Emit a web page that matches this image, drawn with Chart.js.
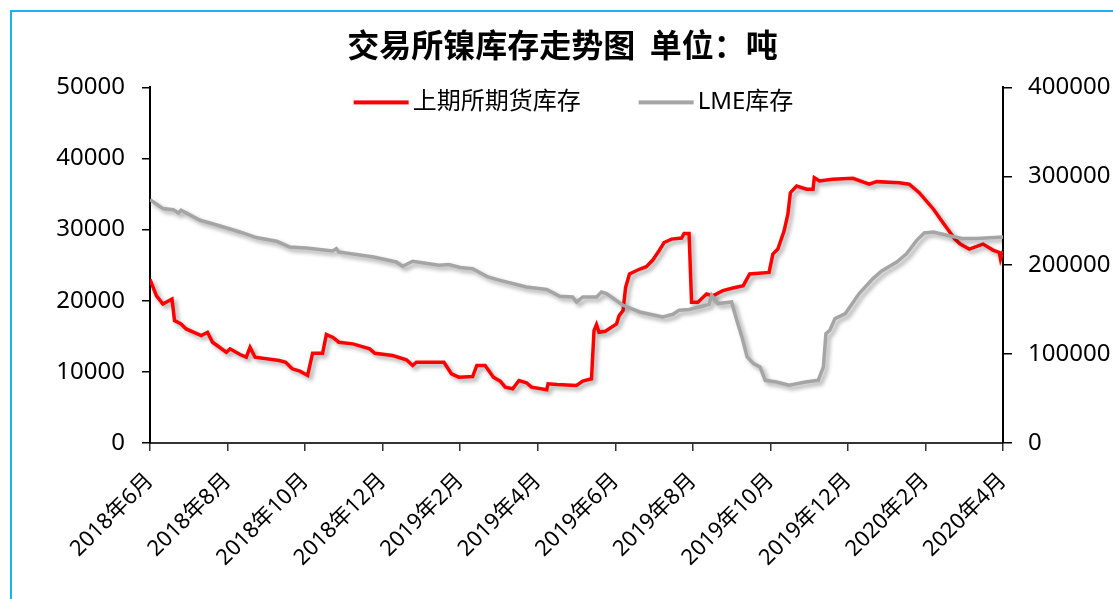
<!DOCTYPE html>
<html lang="zh">
<head>
  <meta charset="UTF-8" />
  <title>交易所镍库存走势图</title>
  <script src="https://cdn.jsdelivr.net/npm/chart.js"></script>
  <style>
    * {
      margin: 0;
      padding: 0;
      box-sizing: border-box;
    }
    body {
      background: #fff;
      width: 1113px;
      height: 599px;
      overflow: hidden;
      position: relative;
    }
    .frame {
      position: absolute;
      left: 10px;
      top: 10px;
      width: 1200px;
      height: 700px;
      border-left: 2px solid #1ab3ee;
      border-top: 2px solid #1ab3ee;
    }
    .wrap {
      position: absolute;
      left: 0;
      top: 0;
      width: 1113px;
      height: 599px;
    }
  </style>
</head>
<body>
  <div class="frame"></div>
  <div class="wrap"><canvas id="stockChart"></canvas></div>

  <script>
    // tick labels on the x axis, one every two months
    const xLabels = ['2018年6月', '2018年8月', '2018年10月', '2018年12月', '2019年2月', '2019年4月',
      '2019年6月', '2019年8月', '2019年10月', '2019年12月', '2020年2月', '2020年4月'];

    // 上期所期货库存 (left axis, tons)
    const shfeDates = ['2018-06-01','2018-06-06','2018-06-11','2018-06-18','2018-06-20','2018-06-25','2018-06-29',
      '2018-07-11','2018-07-16','2018-07-20','2018-07-31','2018-08-03','2018-08-11','2018-08-16','2018-08-19','2018-08-23',
      '2018-09-11','2018-09-16','2018-09-21','2018-09-27','2018-10-03','2018-10-07','2018-10-15','2018-10-18','2018-10-23','2018-10-28',
      '2018-11-08','2018-11-21','2018-11-25','2018-12-09','2018-12-20','2018-12-25','2018-12-28',
      '2019-01-19','2019-01-25','2019-01-31','2019-02-10','2019-02-13','2019-02-19','2019-02-25',
      '2019-03-02','2019-03-06','2019-03-12','2019-03-17','2019-03-23','2019-03-27','2019-04-08','2019-04-09','2019-04-16',
      '2019-05-01','2019-05-06','2019-05-13','2019-05-15','2019-05-17','2019-05-19','2019-05-24',
      '2019-06-02','2019-06-04','2019-06-07','2019-06-09','2019-06-12','2019-06-20','2019-06-25','2019-06-30',
      '2019-07-05','2019-07-09','2019-07-15','2019-07-23','2019-07-25','2019-07-29','2019-07-31',
      '2019-08-05','2019-08-12','2019-08-17','2019-08-25','2019-09-02','2019-09-10','2019-09-15','2019-09-30',
      '2019-10-03','2019-10-07','2019-10-12','2019-10-15','2019-10-17','2019-10-22','2019-10-30',
      '2019-11-04','2019-11-05','2019-11-09','2019-11-19','2019-12-05','2019-12-18','2019-12-24',
      '2020-01-11','2020-01-19','2020-01-27','2020-02-07','2020-02-14','2020-02-23','2020-02-27',
      '2020-03-05','2020-03-16','2020-03-24','2020-03-29','2020-03-30','2020-04-01'];
    const shfeValues = [23000,20700,19550,20250,17200,16750,16040,
      15100,15570,14170,12760,13240,12440,12060,13460,12060,
      11600,11360,10430,10100,9500,12620,12620,15250,14870,14170,
      13940,13240,12620,12300,11700,10900,11360,
      11360,9730,9260,9350,10900,10900,9260,
      8700,7850,7630,8790,8470,7850,7490,8330,8230,
      8090,8700,9030,15800,16650,15570,15710,
      16750,17910,18610,21880,23760,24460,24780,25720,
      27030,28190,28670,28810,29450,29450,19780,
      19780,20950,20700,21420,21800,22120,23760,23990,
      26560,27270,29830,32170,35200,36140,35680,
      35680,37310,36840,37080,37220,36380,36750,
      36600,36380,35200,32870,31000,28670,27970,
      27270,27970,27130,26790,25860,27000];

    // LME库存 (right axis, tons)
    const lmeDates = ['2018-06-01','2018-06-11','2018-06-19','2018-06-23','2018-06-25','2018-07-10','2018-07-18',
      '2018-08-11','2018-08-24','2018-09-09','2018-09-19','2018-10-02','2018-10-23','2018-10-26','2018-10-28',
      '2018-11-24','2018-12-12','2018-12-17','2018-12-25','2019-01-15','2019-01-23','2019-02-01','2019-02-10','2019-02-21',
      '2019-03-02','2019-03-23','2019-04-08','2019-04-18','2019-04-28','2019-05-01','2019-05-06','2019-05-17','2019-05-21','2019-05-25',
      '2019-06-07','2019-06-20','2019-07-08','2019-07-16','2019-07-21','2019-07-29',
      '2019-08-06','2019-08-14','2019-08-16','2019-08-21','2019-09-01','2019-09-05','2019-09-09','2019-09-13','2019-09-18','2019-09-23','2019-09-27',
      '2019-10-06','2019-10-16','2019-10-29','2019-11-08','2019-11-12','2019-11-14','2019-11-17','2019-11-21','2019-11-29',
      '2019-12-10','2019-12-21','2019-12-28','2020-01-09','2020-01-17','2020-01-25','2020-01-31',
      '2020-02-07','2020-02-17','2020-02-29','2020-03-11','2020-04-01'];
    const lmeValues = [273800,263700,262500,258800,261800,250500,247500,
      237400,231100,226900,220500,219400,216000,218700,214900,
      209300,203600,198800,204400,199900,200700,197500,196000,186800,
      183000,175500,172600,165000,164300,158600,164300,164300,169900,168100,
      154900,147400,141800,144800,149300,150100,
      153000,156000,166200,156800,158600,138000,119300,96800,89300,85500,70500,
      68600,64900,68600,70500,85500,123000,126800,139900,145600,
      168100,184900,193500,203600,213100,228000,236300,
      237400,233700,229900,229900,231800];

    // months since 2018-06, each month the same width like the original axis
    function monthPos(s) {
      const [y, m, d] = s.split('-').map(Number);
      const dim = new Date(y, m, 0).getDate();
      return (y - 2018) * 12 + (m - 6) + (d - 1) / dim;
    }
    const toPoints = (dates, vals) => dates.map((d, i) => ({ x: monthPos(d), y: vals[i] }));

    const FONT = "'Noto Sans', 'Noto Sans CJK SC', sans-serif";

    // soft drop shadow under the lines
    const lineShadow = {
      id: 'lineShadow',
      beforeDatasetDraw(chart) {
        const c = chart.ctx;
        c.save();
        c.shadowColor = 'rgba(0,0,0,0.35)';
        c.shadowBlur = 4;
        c.shadowOffsetX = 3;
        c.shadowOffsetY = 3;
      },
      afterDatasetDraw(chart) {
        chart.ctx.restore();
      }
    };

    // one-row legend sitting inside the top of the plot, like the excel one
    const innerLegend = {
      id: 'innerLegend',
      afterDraw(chart) {
        const c = chart.ctx;
        const area = chart.chartArea;
        const sw = 55, gapText = 4, gapItem = 58;
        c.save();
        c.font = '24px ' + FONT;
        c.textBaseline = 'middle';
        const items = chart.data.datasets.map(ds => ({ text: ds.label, color: ds.borderColor, w: c.measureText(ds.label).width }));
        const total = items.reduce((s, it) => s + sw + gapText + it.w, 0) + gapItem * (items.length - 1);
        let x = (area.left + area.right) / 2 - 3 - total / 2;
        const y = area.top + 15;
        items.forEach(it => {
          c.fillStyle = it.color;
          c.fillRect(x, y - 2, sw, 4);
          x += sw + gapText;
          c.fillStyle = '#000';
          c.fillText(it.text, x, y);
          x += it.w + gapItem;
        });
        c.restore();
      }
    };

    const ctx = document.getElementById('stockChart').getContext('2d');
    const chart = new Chart(ctx, {
      type: 'line',
      data: {
        datasets: [
          {
            label: '上期所期货库存',
            data: toPoints(shfeDates, shfeValues),
            borderColor: '#ff0000',
            backgroundColor: '#ff0000',
            borderWidth: 3.5,
            pointRadius: 0,
            tension: 0,
            yAxisID: 'y',
            order: 1
          },
          {
            label: 'LME库存',
            data: toPoints(lmeDates, lmeValues),
            borderColor: '#a5a5a5',
            backgroundColor: '#a5a5a5',
            borderWidth: 3.5,
            pointRadius: 0,
            tension: 0,
            yAxisID: 'y1',
            order: 0
          }
        ]
      },
      plugins: [lineShadow, innerLegend],
      options: {
        responsive: true,
        maintainAspectRatio: false,
        animation: false,
        layout: { padding: { left: 12, right: 0, top: 0, bottom: 0 } },
        plugins: {
          title: {
            display: true,
            text: '交易所镍库存走势图  单位：吨',
            color: '#000',
            font: { family: "'Noto Sans CJK SC', sans-serif", size: 32, weight: 'bold' },
            padding: { top: 26, bottom: 23 }
          },
          legend: { display: false },
          tooltip: { enabled: false }
        },
        scales: {
          x: {
            type: 'linear',
            min: 0,
            max: 22,
            afterBuildTicks: s => { s.ticks = xLabels.map((_, i) => ({ value: i * 2 })); },
            afterFit: s => { s.height = 156; },
            ticks: {
              autoSkip: false,
              maxRotation: 45,
              minRotation: 45,
              padding: 17,
              color: '#000',
              font: { family: FONT, size: 22 },
              callback: v => xLabels[Math.round(v / 2)]
            },
            grid: { drawOnChartArea: false, drawTicks: true, tickLength: 8, color: '#333', lineWidth: 1.5 },
            border: { color: '#333', width: 2 }
          },
          y: {
            position: 'left',
            min: 0,
            max: 50000,
            afterFit: s => { s.width = 138; },
            ticks: { stepSize: 10000, padding: 17, color: '#000', font: { family: FONT, size: 24 }, callback: v => String(v) },
            grid: { drawOnChartArea: false, drawTicks: true, tickLength: 8, color: '#000', lineWidth: 1.5 },
            border: { color: '#000', width: 2 }
          },
          y1: {
            position: 'right',
            min: 0,
            max: 400000,
            afterFit: s => { s.width = 110; },
            ticks: { stepSize: 100000, padding: 16, color: '#000', font: { family: FONT, size: 24 }, callback: v => String(v) },
            grid: { drawOnChartArea: false, drawTicks: true, tickLength: 9, color: '#000', lineWidth: 1.5 },
            border: { color: '#000', width: 2 }
          }
        }
      }
    });
  </script>
</body>
</html>
